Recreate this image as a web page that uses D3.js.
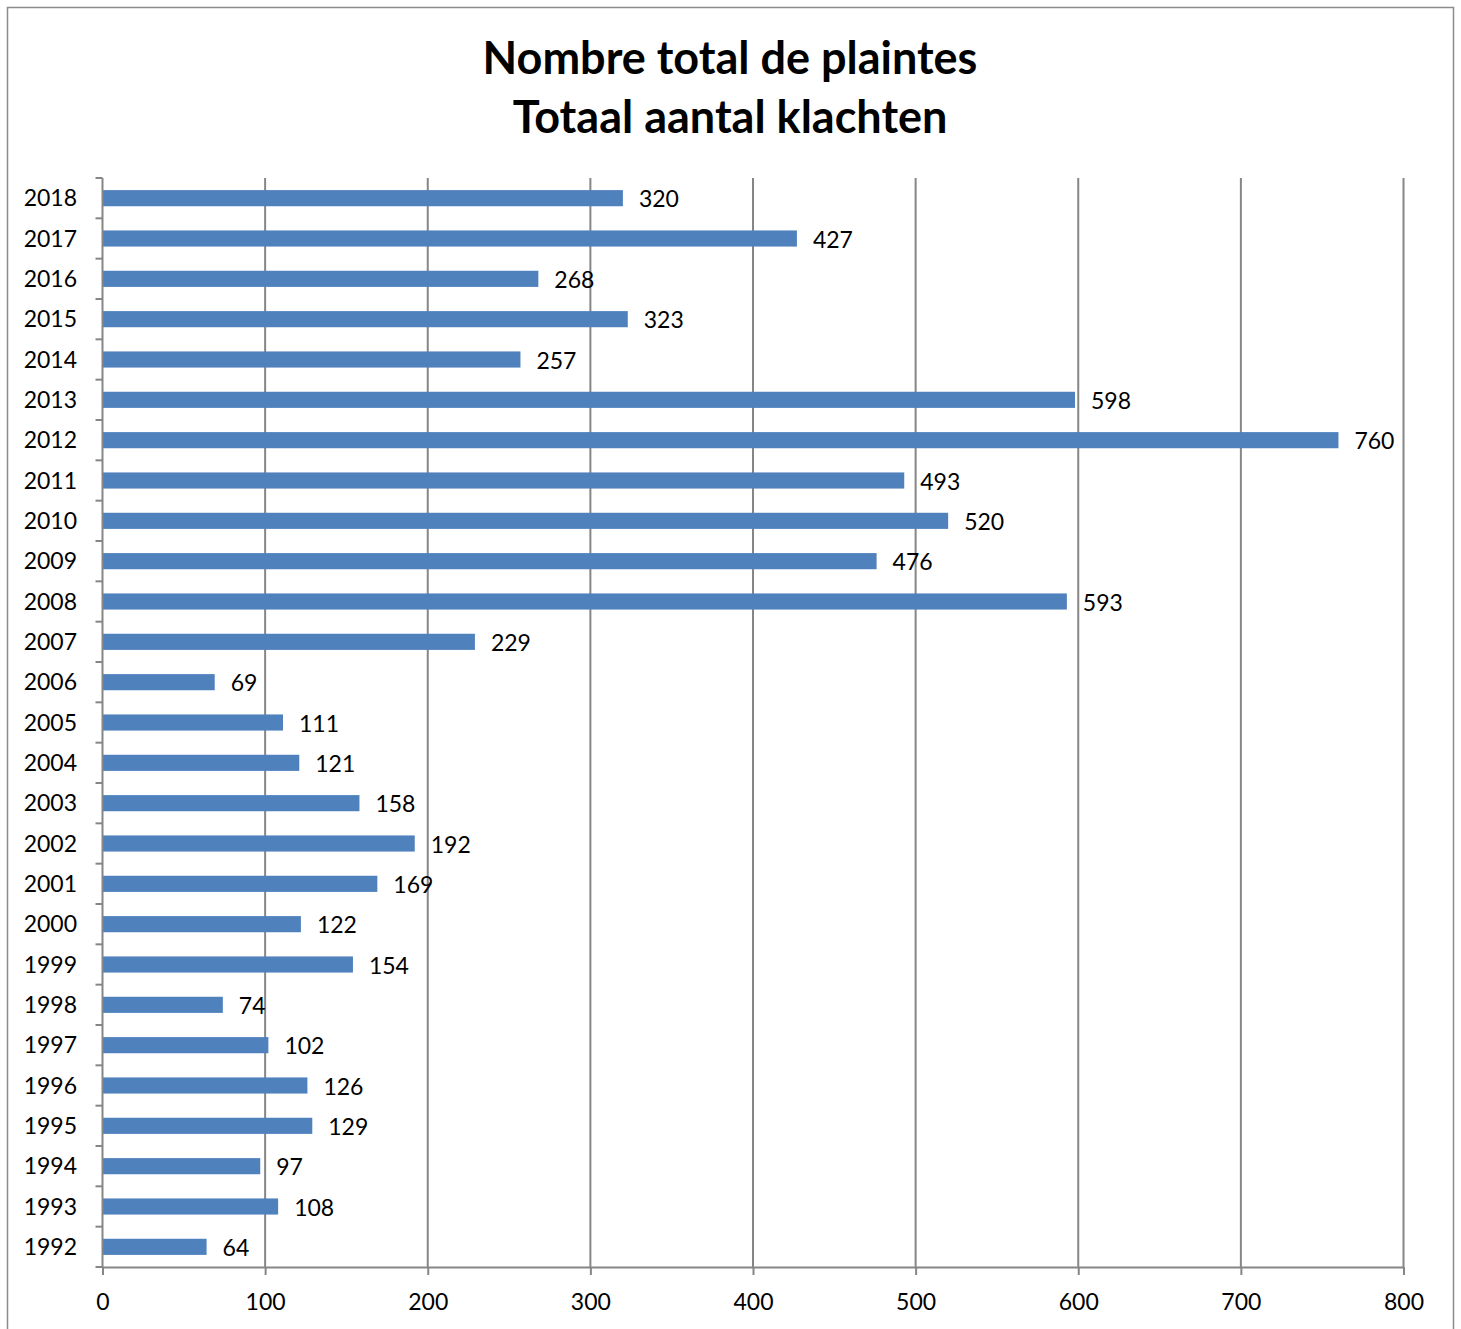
<!DOCTYPE html>
<html>
<head>
<meta charset="utf-8">
<script src="https://cdnjs.cloudflare.com/ajax/libs/d3/7.8.5/d3.min.js"></script>
<style>
    body { margin: 0; background: #fff; }
    text { font-family: Lato, "Open Sans", sans-serif; fill: #000; }
</style>
</head>
<body>
<svg id="chart"></svg>
<script>
var years = ['2018', '2017', '2016', '2015', '2014', '2013', '2012', '2011', '2010',
    '2009', '2008', '2007', '2006', '2005', '2004', '2003', '2002', '2001', '2000',
    '1999', '1998', '1997', '1996', '1995', '1994', '1993', '1992'];
var values = [320, 427, 268, 323, 257, 598, 760, 493, 520,
    476, 593, 229, 69, 111, 121, 158, 192, 169, 122,
    154, 74, 102, 126, 129, 97, 108, 64];
var xTicks = [0, 100, 200, 300, 400, 500, 600, 700, 800];
var titleLines = ['Nombre total de plaintes', 'Totaal aantal klachten'];

var width = 1461, height = 1329;
var plot = { left: 102.5, right: 1403.5, top: 178, bottom: 1267 };

var svg = d3.select('svg#chart')
    .attr('width', width)
    .attr('height', height) ;

// outer frame
svg.append('rect')
    .attr('x', 7.5)
    .attr('y', 7.5)
    .attr('width', 1446)
    .attr('height', 1340)
    .attr('fill', 'none')
    .attr('stroke', '#8c8c8c')
    .attr('stroke-width', 1.5) ;

svg.selectAll('text.title')
    .data(titleLines)
    .enter().append('text')
    .classed('title', true)
    .attr('x', 730)
    .attr('y', function (d, i) { return 74 + 59 * i; })
    .attr('text-anchor', 'middle')
    .attr('font-size', '45px')
    .attr('font-weight', 'bold')
    .text(function (d) { return d; }) ;

var x = d3.scaleLinear()
    .domain([0, 800])
    .range([plot.left, plot.right]) ;

var y = d3.scaleBand()
    .domain(years)
    .range([plot.top, plot.bottom]) ;

var barH = y.bandwidth() * 0.4;

// vertical gridlines
svg.append('g')
    .selectAll('line')
    .data(xTicks.slice(1))
    .enter().append('line')
    .attr('x1', function (d) { return x(d); })
    .attr('x2', function (d) { return x(d); })
    .attr('y1', plot.top)
    .attr('y2', plot.bottom)
    .attr('stroke', '#868686')
    .attr('stroke-width', 2) ;

// bars
svg.append('g')
    .selectAll('rect')
    .data(values)
    .enter().append('rect')
    .attr('x', x(0))
    .attr('y', function (d, i) { return y(years[i]) + (y.bandwidth() - barH) / 2; })
    .attr('width', function (d) { return x(d) - x(0); })
    .attr('height', barH)
    .attr('fill', '#4f81bd') ;

// value labels
svg.append('g')
    .selectAll('text')
    .data(values)
    .enter().append('text')
    .attr('x', function (d) { return x(d) + 16; })
    .attr('y', function (d, i) { return y(years[i]) + y.bandwidth() / 2 + 9; })
    .attr('font-size', '23px')
    .text(function (d) { return d; }) ;

// x axis
var xAxis = svg.append('g')
    .attr('transform', 'translate(0,' + plot.bottom + ')')
    .call(d3.axisBottom(x).tickValues(xTicks).tickSize(8).tickSizeOuter(0)) ;
xAxis.select('.domain').attr('stroke', '#868686').attr('stroke-width', 2) ;
xAxis.selectAll('.tick line').attr('stroke', '#868686').attr('stroke-width', 2) ;
xAxis.selectAll('.tick text')
    .attr('y', 27)
    .attr('dy', '0.71em')
    .style('font-family', 'Lato, sans-serif')
    .attr('font-size', '23px')
    .attr('fill', '#000') ;

// y axis: line, ticks at band boundaries, labels
var bounds = years.map(function (d) { return y(d); }).concat([plot.bottom]);
var yAxis = svg.append('g') ;
yAxis.append('line')
    .attr('x1', plot.left)
    .attr('x2', plot.left)
    .attr('y1', plot.top)
    .attr('y2', plot.bottom)
    .attr('stroke', '#868686')
    .attr('stroke-width', 2) ;
yAxis.selectAll('line.tick')
    .data(bounds)
    .enter().append('line')
    .classed('tick', true)
    .attr('x1', plot.left - 7)
    .attr('x2', plot.left)
    .attr('y1', function (d) { return d; })
    .attr('y2', function (d) { return d; })
    .attr('stroke', '#868686')
    .attr('stroke-width', 2) ;
yAxis.selectAll('text')
    .data(years)
    .enter().append('text')
    .attr('x', 77)
    .attr('y', function (d) { return y(d) + y.bandwidth() / 2 + 8; })
    .attr('text-anchor', 'end')
    .attr('font-size', '23px')
    .text(function (d) { return d; }) ;
</script>
</body>
</html>
